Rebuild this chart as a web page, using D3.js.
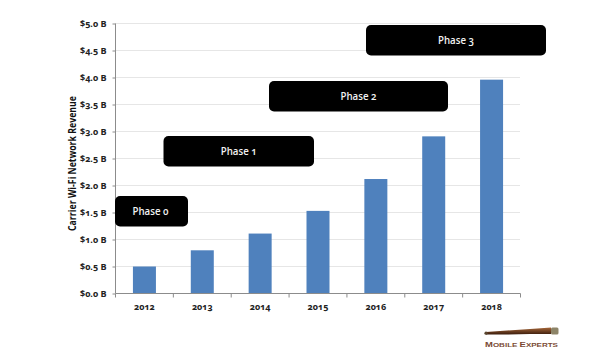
<!DOCTYPE html>
<html><head><meta charset="utf-8">
<script src="https://cdn.jsdelivr.net/npm/d3@7/dist/d3.min.js"></script>
<style>html,body{margin:0;padding:0;background:#fff;overflow:hidden}svg{display:block;opacity:.999}
text{font-family:"Open Sans",sans-serif;font-feature-settings:"onum" 1;font-variant-numeric:oldstyle-nums}</style>
</head><body><svg id="c" width="595" height="351"></svg>
<script>
const years = ["2012","2013","2014","2015","2016","2017","2018"];
const revenue = [0.5,0.8,1.11,1.53,2.12,2.91,3.96];
const yTicks = [0,0.5,1,1.5,2,2.5,3,3.5,4,4.5,5];
const phaseNames = ["Phase 0","Phase 1","Phase 2","Phase 3"];
const phaseLeft = [115,163.5,269,366];
const phaseRight = [188,314,448,546];
const phaseTop = [196,136,81,25];
const yTitle = "Carrier Wi-Fi Network Revenue";

const svg = d3.select("#c");
const band = d3.scaleBand().domain(years).range([115.5,520.5]);
const y = d3.scaleLinear().domain([0,5]).range([293.5,23.5]);

svg.append("g").selectAll("line").data(yTicks.slice(1)).join("line")
  .attr("x1",115.5).attr("x2",520).attr("y1",d=>y(d)).attr("y2",d=>y(d))
  .attr("stroke","#e6e6e6").attr("stroke-width",1.2);

svg.append("g").selectAll("rect").data(years).join("rect")
  .attr("x",d=>band(d)+band.bandwidth()/2-11.5).attr("width",23)
  .attr("y",(d,i)=>y(revenue[i])).attr("height",(d,i)=>y(0)-y(revenue[i]))
  .attr("fill","#4f81bd");

const gy = svg.append("g").attr("transform","translate(115.5,0)")
  .call(d3.axisLeft(y).tickValues(yTicks).tickSize(3).tickPadding(6).tickFormat(d=>"$"+d3.format(".1f")(d)+" B"));
const gx = svg.append("g").attr("transform","translate(0,293.5)")
  .call(d3.axisBottom(band).tickSize(3).tickPadding(7));
gx.selectAll(".tick line").remove();
gx.append("g").selectAll("line").data(years.concat([""])).join("line")
  .attr("x1",(d,i)=>115.5+i*band.step()).attr("x2",(d,i)=>115.5+i*band.step())
  .attr("y1",0).attr("y2",4).attr("stroke","#8c8c8c");
gx.selectAll(".domain").attr("stroke","#8c8c8c").attr("d","M115.5,0H520.5");
gy.selectAll(".domain").attr("stroke","#8c8c8c").attr("d","M0,23.5V293.5");
gy.selectAll(".tick line").attr("stroke","#8c8c8c");
svg.selectAll(".tick text").attr("font-size",9).attr("font-weight",700).attr("fill","#222")
  .style("font-family","'Open Sans',sans-serif");

svg.append("text").attr("transform","translate(75.5,163.5) rotate(-90)")
  .attr("text-anchor","middle").attr("font-size",10).attr("font-weight",700).attr("fill","#111")
  .attr("textLength",135).attr("lengthAdjust","spacingAndGlyphs").text(yTitle);

phaseNames.forEach((n,i)=>{
  svg.append("rect").attr("x",phaseLeft[i]).attr("y",phaseTop[i])
    .attr("width",phaseRight[i]-phaseLeft[i]).attr("height",30.5).attr("rx",5).attr("fill","#000");
  svg.append("text").attr("x",(phaseLeft[i]+phaseRight[i])/2+ (i==0?-1:0)).attr("y",phaseTop[i]+18.5)
    .attr("text-anchor","middle").attr("font-size",11.5).attr("font-weight",600).attr("fill","#f2f2f2")
    .attr("textLength",36).attr("lengthAdjust","spacingAndGlyphs").text(n);
});

const defs = svg.append("defs");
const lg = defs.append("linearGradient").attr("id","tube").attr("x1",0).attr("y1",0).attr("x2",0).attr("y2",1);
lg.append("stop").attr("offset",0).attr("stop-color","#a8683a");
lg.append("stop").attr("offset",1).attr("stop-color","#3a1c0c");
svg.append("path").attr("d","M486,332 L507,330.5 L530,329 L551,327.5 L551,334 L530,334 L507,334.5 L486,334.5 Z").attr("fill","url(#tube)");
svg.append("circle").attr("cx",486).attr("cy",333.2).attr("r",1.6).attr("fill","#5a4630");
svg.append("rect").attr("x",551).attr("y",327.5).attr("width",7.5).attr("height",7).attr("rx",1.5).attr("fill","#8d8468");
const logo = svg.append("text").attr("x",485).attr("y",347).attr("font-weight",700)
  .attr("fill","#7a4a34").attr("textLength",73).attr("lengthAdjust","spacingAndGlyphs")
  .style("font-family","'Liberation Sans',sans-serif").attr("font-size",5.5);
logo.append("tspan").attr("font-size",6.5).text("M");
logo.append("tspan").text("OBILE ");
logo.append("tspan").attr("font-size",6.5).text("E");
logo.append("tspan").text("XPERTS");
</script></body></html>
